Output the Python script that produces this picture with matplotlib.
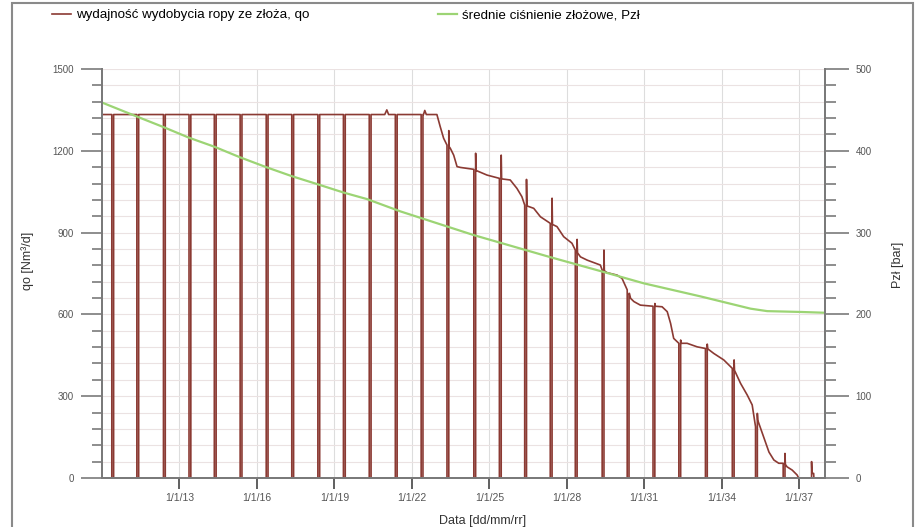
import numpy as np
import matplotlib
matplotlib.use("Agg")
import matplotlib.pyplot as plt
from matplotlib.ticker import MultipleLocator
from matplotlib.patches import Rectangle

# shut-ins once a year: rate just before, flush spike after restart, rate it settles back to
shutin_years = [2010.38, 2011.35, 2012.38, 2013.37, 2014.35, 2015.35, 2016.36,
                2017.35, 2018.36, 2019.35, 2020.35, 2021.36, 2022.36, 2023.36,
                2024.40, 2025.39, 2026.37, 2027.36, 2028.33, 2029.37, 2030.34,
                2031.34, 2032.34, 2033.37, 2034.41, 2035.31, 2036.38, 2037.41]
rate_before = [1333] * 13 + [1221, 1132, 1099, 1001, 934, 836, 763, 690, 630,
                             494, 475, 402, 188, 54, 0]
rate_after = [1333] * 13 + [1274, 1191, 1184, 1095, 1026, 875, 836, 677, 640,
                            506, 491, 433, 237, 90, 60]
rate_resume = [1333] * 13 + [1215, 1128, 1097, 998, 930, 826, 760, 677, 630,
                             494, 474, 395, 212, 50, 17]
shutin_len = 0.07  # years

# production rate between shut-ins
base_years = [2010.0, 2020.95, 2021.03, 2021.10, 2022.45, 2022.50, 2022.56,
              2022.97, 2023.10, 2023.23, 2023.49, 2023.62, 2023.75, 2023.88,
              2024.91, 2025.81, 2026.07, 2026.26, 2026.72, 2026.98, 2027.62,
              2027.88, 2028.20, 2028.53, 2028.79, 2029.30, 2029.56, 2029.95,
              2030.14, 2030.47, 2030.60, 2030.85, 2031.69, 2031.89, 2032.02,
              2032.14, 2032.66, 2033.05, 2033.69, 2034.08, 2034.73, 2034.99,
              2035.18, 2035.44, 2035.63, 2035.83, 2036.02, 2036.21, 2036.53,
              2036.73, 2036.92, 2036.98, 2037.50, 2037.56, 2037.57, 2038.0]
base_rates = [1333, 1333, 1350, 1333, 1333, 1348, 1333,
              1333, 1288, 1246, 1209, 1184, 1142, 1139,
              1111, 1093, 1062, 1032, 989, 958, 922,
              885, 861, 811, 799, 781, 753, 744,
              732, 659, 647, 634, 628, 610, 567,
              512, 494, 481, 457, 433, 347, 304,
              268, 200, 150, 95, 66, 54, 41,
              29, 11, 0, 17, 17, 0, 0]

# average reservoir pressure
p_years = [2010.0, 2011.34, 2012.38, 2013.37, 2014.35, 2015.35, 2016.36, 2017.35,
           2018.36, 2019.35, 2020.26, 2021.55, 2024.39, 2027.36, 2029.3, 2030.98,
           2033.18, 2035.12, 2035.76, 2037.05, 2038.0]
p_vals = [459, 442, 429, 416, 405, 392, 380, 369, 359, 349, 341, 326, 297, 270,
          253, 238, 222, 207, 204, 203, 202]

tick_years = [2013, 2016, 2019, 2022, 2025, 2028, 2031, 2034, 2037]
tick_labels = ["1/1/13", "1/1/16", "1/1/19", "1/1/22", "1/1/25", "1/1/28",
               "1/1/31", "1/1/34", "1/1/37"]

# build the stepped rate series
pts = list(zip(base_years, base_rates))
for t, b, a, r in zip(shutin_years, rate_before, rate_after, rate_resume):
    t2 = t + shutin_len
    pts += [(t, b), (t, 0), (t2, 0), (t2, a), (t2 + 0.015, r)]
pts.sort(key=lambda p: p[0])
q_t = [p[0] for p in pts]
q_v = [p[1] for p in pts]

plt.rcParams["font.family"] = ["Liberation Sans", "DejaVu Sans"]

fig = plt.figure(figsize=(9.17, 5.27), dpi=100)
ax = fig.add_axes([102 / 917, 1 - 478 / 527, 723 / 917, 409 / 527])
ax2 = ax.twinx()

brown = "#8b3a33"
green = "#9cd474"
spine_c = "#7a7a7a"

line_q, = ax.plot(q_t, q_v, color=brown, lw=1.2)
line_p, = ax2.plot(p_years, p_vals, color=green, lw=1.6)

ax.set_xlim(2010, 2038)
ax.set_ylim(0, 1500)
ax2.set_ylim(0, 500)

ax.set_xticks(tick_years)
ax.set_xticklabels(tick_labels)
ax.set_yticks(range(0, 1501, 300))
ax.yaxis.set_minor_locator(MultipleLocator(60))
ax2.set_yticks(range(0, 501, 100))
ax2.yaxis.set_minor_locator(MultipleLocator(20))

ax.grid(axis="y", which="both", color="#ebe2e2", lw=0.8)
ax.grid(axis="x", which="major", color="#dddddd", lw=0.8)
ax.set_axisbelow(True)

for a in (ax, ax2):
    a.spines["top"].set_visible(False)
    for s in ("left", "right", "bottom"):
        a.spines[s].set_color(spine_c)
        a.spines[s].set_linewidth(1.4)

ax.tick_params(axis="y", which="major", length=15, width=1.2, color=spine_c,
               labelsize=7, labelcolor="#555555", pad=5)
ax.tick_params(axis="y", which="minor", length=7, width=1.2, color=spine_c)
ax2.tick_params(axis="y", which="major", length=17, width=1.2, color=spine_c,
                labelsize=7, labelcolor="#555555", pad=5)
ax2.tick_params(axis="y", which="minor", length=8, width=1.2, color=spine_c)
ax.tick_params(axis="x", length=8, width=1.2, color="#444444",
               labelsize=7.5, labelcolor="#555555", pad=3)

ax.set_xlabel("Data [dd/mm/rr]", fontsize=9, color="#333333")
ax.xaxis.set_label_coords(0.527, -0.09)
ax.set_ylabel("qo [Nm\u00b3/d]", fontsize=9, color="#333333")
ax.yaxis.set_label_coords(-0.094, 0.53)
ax2.set_ylabel("Pz\u0142 [bar]", fontsize=9, color="#333333")
ax2.yaxis.set_label_coords(1.092, 0.52)

fig.legend(handles=[line_q], labels=["wydajno\u015b\u0107 wydobycia ropy ze z\u0142o\u017ca, qo"],
           loc="center left", bbox_to_anchor=(52 / 917, 1 - 15 / 527),
           frameon=False, fontsize=9.6, borderpad=0, borderaxespad=0,
           handlelength=1.4, handletextpad=0.4)
fig.legend(handles=[line_p], labels=["\u015brednie ci\u015bnienie z\u0142o\u017cowe, Pz\u0142"],
           loc="center left", bbox_to_anchor=(438 / 917, 1 - 15 / 527),
           frameon=False, fontsize=9.6, borderpad=0, borderaxespad=0,
           handlelength=1.4, handletextpad=0.4)

fig.patches.append(Rectangle((12 / 917, -0.1), 901 / 917, 1.1 - 3 / 527,
                             transform=fig.transFigure, fill=False,
                             ec="#8a8a8a", lw=1.5))

fig.savefig("out.png", dpi=100)
